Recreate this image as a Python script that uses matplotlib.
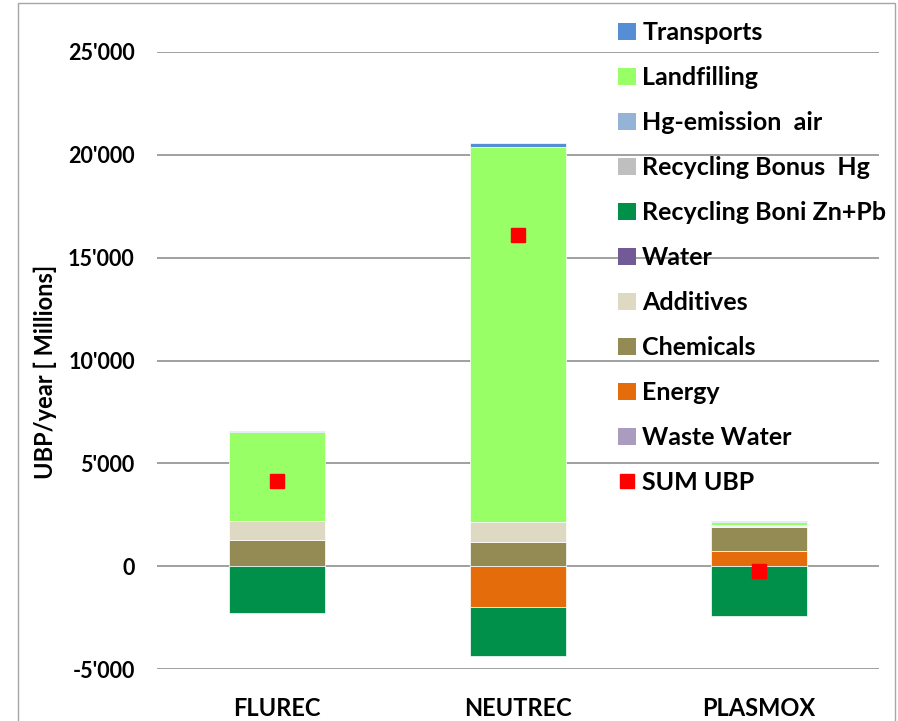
import matplotlib
matplotlib.use("Agg")

import matplotlib.pyplot as plt
import matplotlib.patches as mpatches
from matplotlib.lines import Line2D
from matplotlib.ticker import FuncFormatter
import numpy as np

# ── Data (UBP/year, millions) ────────────────────────────────────────────────
categories  = ["FLUREC", "NEUTREC", "PLASMOX"]
waste_water = [0, 0, 0]
energy      = [30, -2000, 730]
chemicals   = [1260, 1170, 1160]
additives   = [920, 970, 60]
water       = [0, 0, 0]
zn_pb       = [-2300, -2380, -2420]
bonus_hg    = [0, 0, 0]
hg_air      = [0, 0, 40]
landfilling = [4320, 18250, 180]
transports  = [50, 190, 40]
sum_ubp     = [4150, 16120, -230]

# stacking order, bottom to top
series = [
    ("Waste Water",          waste_water, "#A99CBF"),
    ("Energy",               energy,      "#E46C0A"),
    ("Chemicals",            chemicals,   "#948A54"),
    ("Additives",            additives,   "#DDD9C3"),
    ("Water",                water,       "#725A96"),
    ("Recycling Boni Zn+Pb", zn_pb,       "#00904A"),
    ("Recycling Bonus  Hg",  bonus_hg,    "#BFBFBF"),
    ("Hg-emission  air",     hg_air,      "#95B3D7"),
    ("Landfilling",          landfilling, "#99FF66"),
    ("Transports",           transports,  "#558ED5"),
]

FONT = "Lato"
W, H = 898, 721

fig = plt.figure(figsize=(W / 100, H / 100), dpi=100, facecolor="white")
ax = fig.add_axes([157 / W, 1 - 669 / H, (879 - 157) / W, (669 - 52) / H])

x = np.arange(len(categories))
pos_base = np.zeros(len(categories))
neg_base = np.zeros(len(categories))
for name, vals, color in series:
    vals = np.asarray(vals, dtype=float)
    bottoms = np.where(vals >= 0, pos_base, neg_base)
    ax.bar(x, vals, bottom=bottoms, width=0.4, color=color,
           edgecolor="white", linewidth=0.5, zorder=2)
    pos_base += np.clip(vals, 0, None)
    neg_base += np.clip(vals, None, 0)

ax.plot(x, sum_ubp, linestyle="none", marker="s", markersize=9.5,
        color="#FF0000", zorder=3)

ax.set_xlim(-0.5, len(categories) - 0.5)
ax.set_ylim(-5000, 25000)
ax.set_yticks(np.arange(-5000, 25001, 5000))
ax.yaxis.set_major_formatter(
    FuncFormatter(lambda v, _: f"{v:,.0f}".replace(",", "'"))
)
ax.grid(axis="y", color="#A0A0A0", linewidth=1.4, zorder=0)
ax.set_axisbelow(True)
for s in ax.spines.values():
    s.set_visible(False)
ax.tick_params(axis="y", length=0, pad=16)
ax.tick_params(axis="x", length=0, pad=20)
ax.set_xticks(x)
ax.set_xticklabels(categories)
for lbl in ax.get_yticklabels():
    lbl.set_fontfamily(FONT)
    lbl.set_fontweight("bold")
    lbl.set_fontsize(15.5)
for lbl in ax.get_xticklabels():
    lbl.set_fontfamily(FONT)
    lbl.set_fontweight("bold")
    lbl.set_fontsize(17)

fig.text(45 / W, 1 - 372 / H, "UBP/year [ Millions]", rotation=90,
         ha="center", va="center", fontsize=17, fontweight="bold",
         family=FONT)

# legend, top entry = last stacked series
handles = [mpatches.Patch(facecolor=c, edgecolor="none", label=n)
           for n, _, c in reversed(series)]
handles.append(Line2D([], [], linestyle="none", marker="s", markersize=9.5,
                      color="#FF0000", label="SUM UBP"))
fig.legend(handles=handles, loc="upper left",
           bbox_to_anchor=(618 / W, 1 - 21 / H), frameon=False,
           prop={"family": FONT, "weight": "bold", "size": 18},
           handlelength=0.72, handleheight=0.68, handletextpad=0.25,
           labelspacing=0.88, borderaxespad=0, borderpad=0)

# chart-area border
fig.patches.append(mpatches.Rectangle(
    (18 / W, -0.02), (895 - 18) / W, 1.02 - 3 / H,
    transform=fig.transFigure, fill=False, edgecolor="#A6A6A6",
    linewidth=1.0))

fig.savefig("out.png", dpi=100, facecolor="white")
